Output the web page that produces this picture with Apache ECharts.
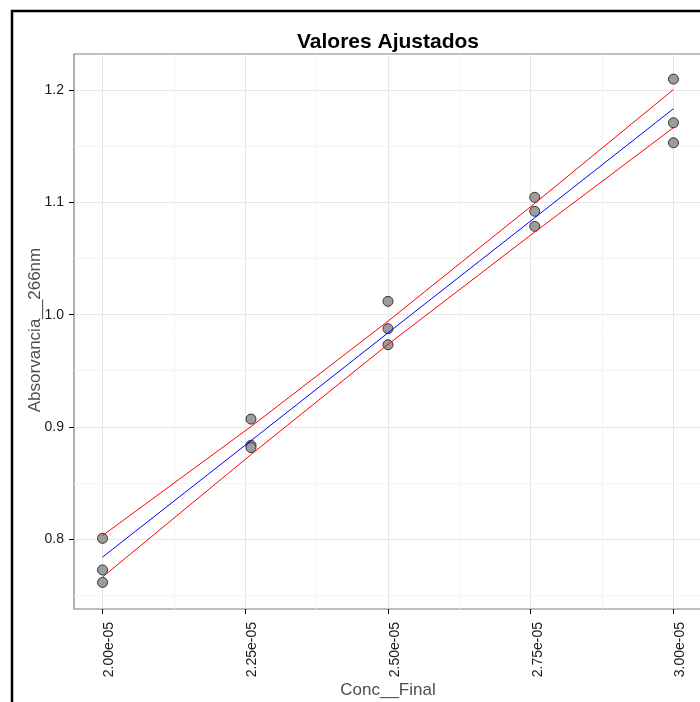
<!DOCTYPE html>
<html>
<head>
<meta charset="utf-8">
<script src="https://cdn.jsdelivr.net/npm/echarts@6/dist/echarts.min.js"></script>
<style>
  html, body { margin: 0; padding: 0; background: #fff; overflow: hidden; }
  #chart { width: 700px; height: 702px; }
</style>
</head>
<body>
<div id="chart"></div>
<script>
// Measured absorbance (three replicates per concentration level)
const concPts = [
  2.00e-5, 2.00e-5, 2.00e-5,
  2.26e-5, 2.26e-5, 2.26e-5,
  2.50e-5, 2.50e-5, 2.50e-5,
  2.757e-5, 2.757e-5, 2.757e-5,
  3.00e-5, 3.00e-5, 3.00e-5
];
const absorbance = [
  0.8005, 0.7723, 0.7612,
  0.9069, 0.8835, 0.8815,
  1.0119, 0.9875, 0.9732,
  1.1047, 1.0922, 1.0788,
  1.2101, 1.1712, 1.1533
];

// Fitted line and confidence limits at each concentration level
const concLevels = [2.00e-5, 2.26e-5, 2.50e-5, 2.757e-5, 3.00e-5];
const fitted  = [0.7838, 0.8876, 0.9838, 1.0864, 1.1837];
const upperCI = [0.8030, 0.9002, 0.9942, 1.0993, 1.2008];
const lowerCI = [0.7660, 0.8752, 0.9735, 1.0737, 1.1668];

// Axis ticks
const xTicks = [2.00e-5, 2.25e-5, 2.50e-5, 2.75e-5, 3.00e-5];
const xMinorTicks = [2.125e-5, 2.375e-5, 2.625e-5, 2.875e-5];
const yTicks = [0.8, 0.9, 1.0, 1.1, 1.2];
const yMinorTicks = [0.75, 0.85, 0.95, 1.05, 1.15];

const FONT = '"Liberation Sans", Arial, Helvetica, sans-serif';

function sciLabel(v) {
  const parts = v.toExponential(2).split('e');
  const exp = parseInt(parts[1], 10);
  const sign = exp < 0 ? '-' : '+';
  const mag = String(Math.abs(exp)).padStart(2, '0');
  return parts[0] + 'e' + sign + mag;
}

const pair = (xs, ys) => xs.map((x, i) => [x, ys[i]]);

const X_MIN = 1.95e-5, X_MAX = 3.05e-5;
const Y_MIN = 0.7375, Y_MAX = 1.2325;

const chart = echarts.init(document.getElementById('chart'), null, { renderer: 'canvas' });

const hiddenAxisParts = {
  axisLine: { show: false },
  axisLabel: { show: false }
};

chart.setOption({
  animation: false,
  backgroundColor: '#fff',
  textStyle: { fontFamily: FONT },
  grid: {
    left: 74, top: 54, width: 628, height: 555,
    outerBoundsMode: 'none', containLabel: false,
    show: true, borderColor: '#7f7f7f', borderWidth: 1.2, backgroundColor: '#fff'
  },
  xAxis: [
    {
      type: 'value', min: X_MIN, max: X_MAX,
      axisLine: { show: false },
      axisTick: { show: true, customValues: xTicks, length: 5, lineStyle: { color: '#000', width: 1 } },
      axisLabel: {
        customValues: xTicks, rotate: 90, margin: 13, verticalAlign: 'top',
        color: '#1a1a1a', fontSize: 14, fontFamily: FONT, formatter: sciLabel
      },
      splitLine: { show: true, lineStyle: { color: '#e6e6e6', width: 1 } }
    },
    {
      type: 'value', min: X_MIN, max: X_MAX,
      ...hiddenAxisParts,
      axisTick: { show: false, customValues: xMinorTicks },
      splitLine: { show: true, lineStyle: { color: '#f4f4f4', width: 1 } }
    }
  ],
  yAxis: [
    {
      type: 'value', min: Y_MIN, max: Y_MAX,
      axisLine: { show: false },
      axisTick: { show: true, customValues: yTicks, length: 5, lineStyle: { color: '#000', width: 1 } },
      axisLabel: {
        customValues: yTicks, margin: 10,
        color: '#1a1a1a', fontSize: 14, fontFamily: FONT,
        formatter: v => v.toFixed(1)
      },
      splitLine: { show: true, lineStyle: { color: '#e6e6e6', width: 1 } }
    },
    {
      type: 'value', min: Y_MIN, max: Y_MAX,
      ...hiddenAxisParts,
      axisTick: { show: false, customValues: yMinorTicks },
      splitLine: { show: true, lineStyle: { color: '#f4f4f4', width: 1 } }
    }
  ],
  graphic: [
    {
      type: 'rect', silent: true, z: 100,
      shape: { x: 12, y: 11, width: 720, height: 720 },
      style: { fill: 'none', stroke: '#000', lineWidth: 2.5 }
    },
    {
      type: 'text', x: 388, y: 42, z: 100,
      style: {
        text: 'Valores Ajustados', fontFamily: FONT, fontSize: 21, fontWeight: 'bold',
        fill: '#000', align: 'center', verticalAlign: 'middle'
      }
    },
    {
      type: 'text', x: 388, y: 690, z: 100,
      style: {
        text: 'Conc__Final', fontFamily: FONT, fontSize: 17,
        fill: '#4d4d4d', align: 'center', verticalAlign: 'middle'
      }
    },
    {
      type: 'text', x: 35, y: 330, rotation: Math.PI / 2, z: 100,
      style: {
        text: 'Absorvancia__266nm', fontFamily: FONT, fontSize: 17,
        fill: '#4d4d4d', align: 'center', verticalAlign: 'middle'
      }
    }
  ],
  series: [
    {
      name: 'Absorvancia', type: 'scatter', z: 2,
      data: pair(concPts, absorbance),
      symbol: 'circle', symbolSize: 10,
      itemStyle: { color: '#9c9c9c', borderColor: '#333', borderWidth: 1, opacity: 1 }
    },
    {
      name: 'Ajuste', type: 'line', z: 3,
      data: pair(concLevels, fitted),
      showSymbol: false, symbol: 'none',
      lineStyle: { color: '#0000ff', width: 1 }
    },
    {
      name: 'Limite superior', type: 'line', z: 3,
      data: pair(concLevels, upperCI),
      showSymbol: false, symbol: 'none',
      lineStyle: { color: '#ff0000', width: 1 }
    },
    {
      name: 'Limite inferior', type: 'line', z: 3,
      data: pair(concLevels, lowerCI),
      showSymbol: false, symbol: 'none',
      lineStyle: { color: '#ff0000', width: 1 }
    }
  ]
});
</script>
</body>
</html>
